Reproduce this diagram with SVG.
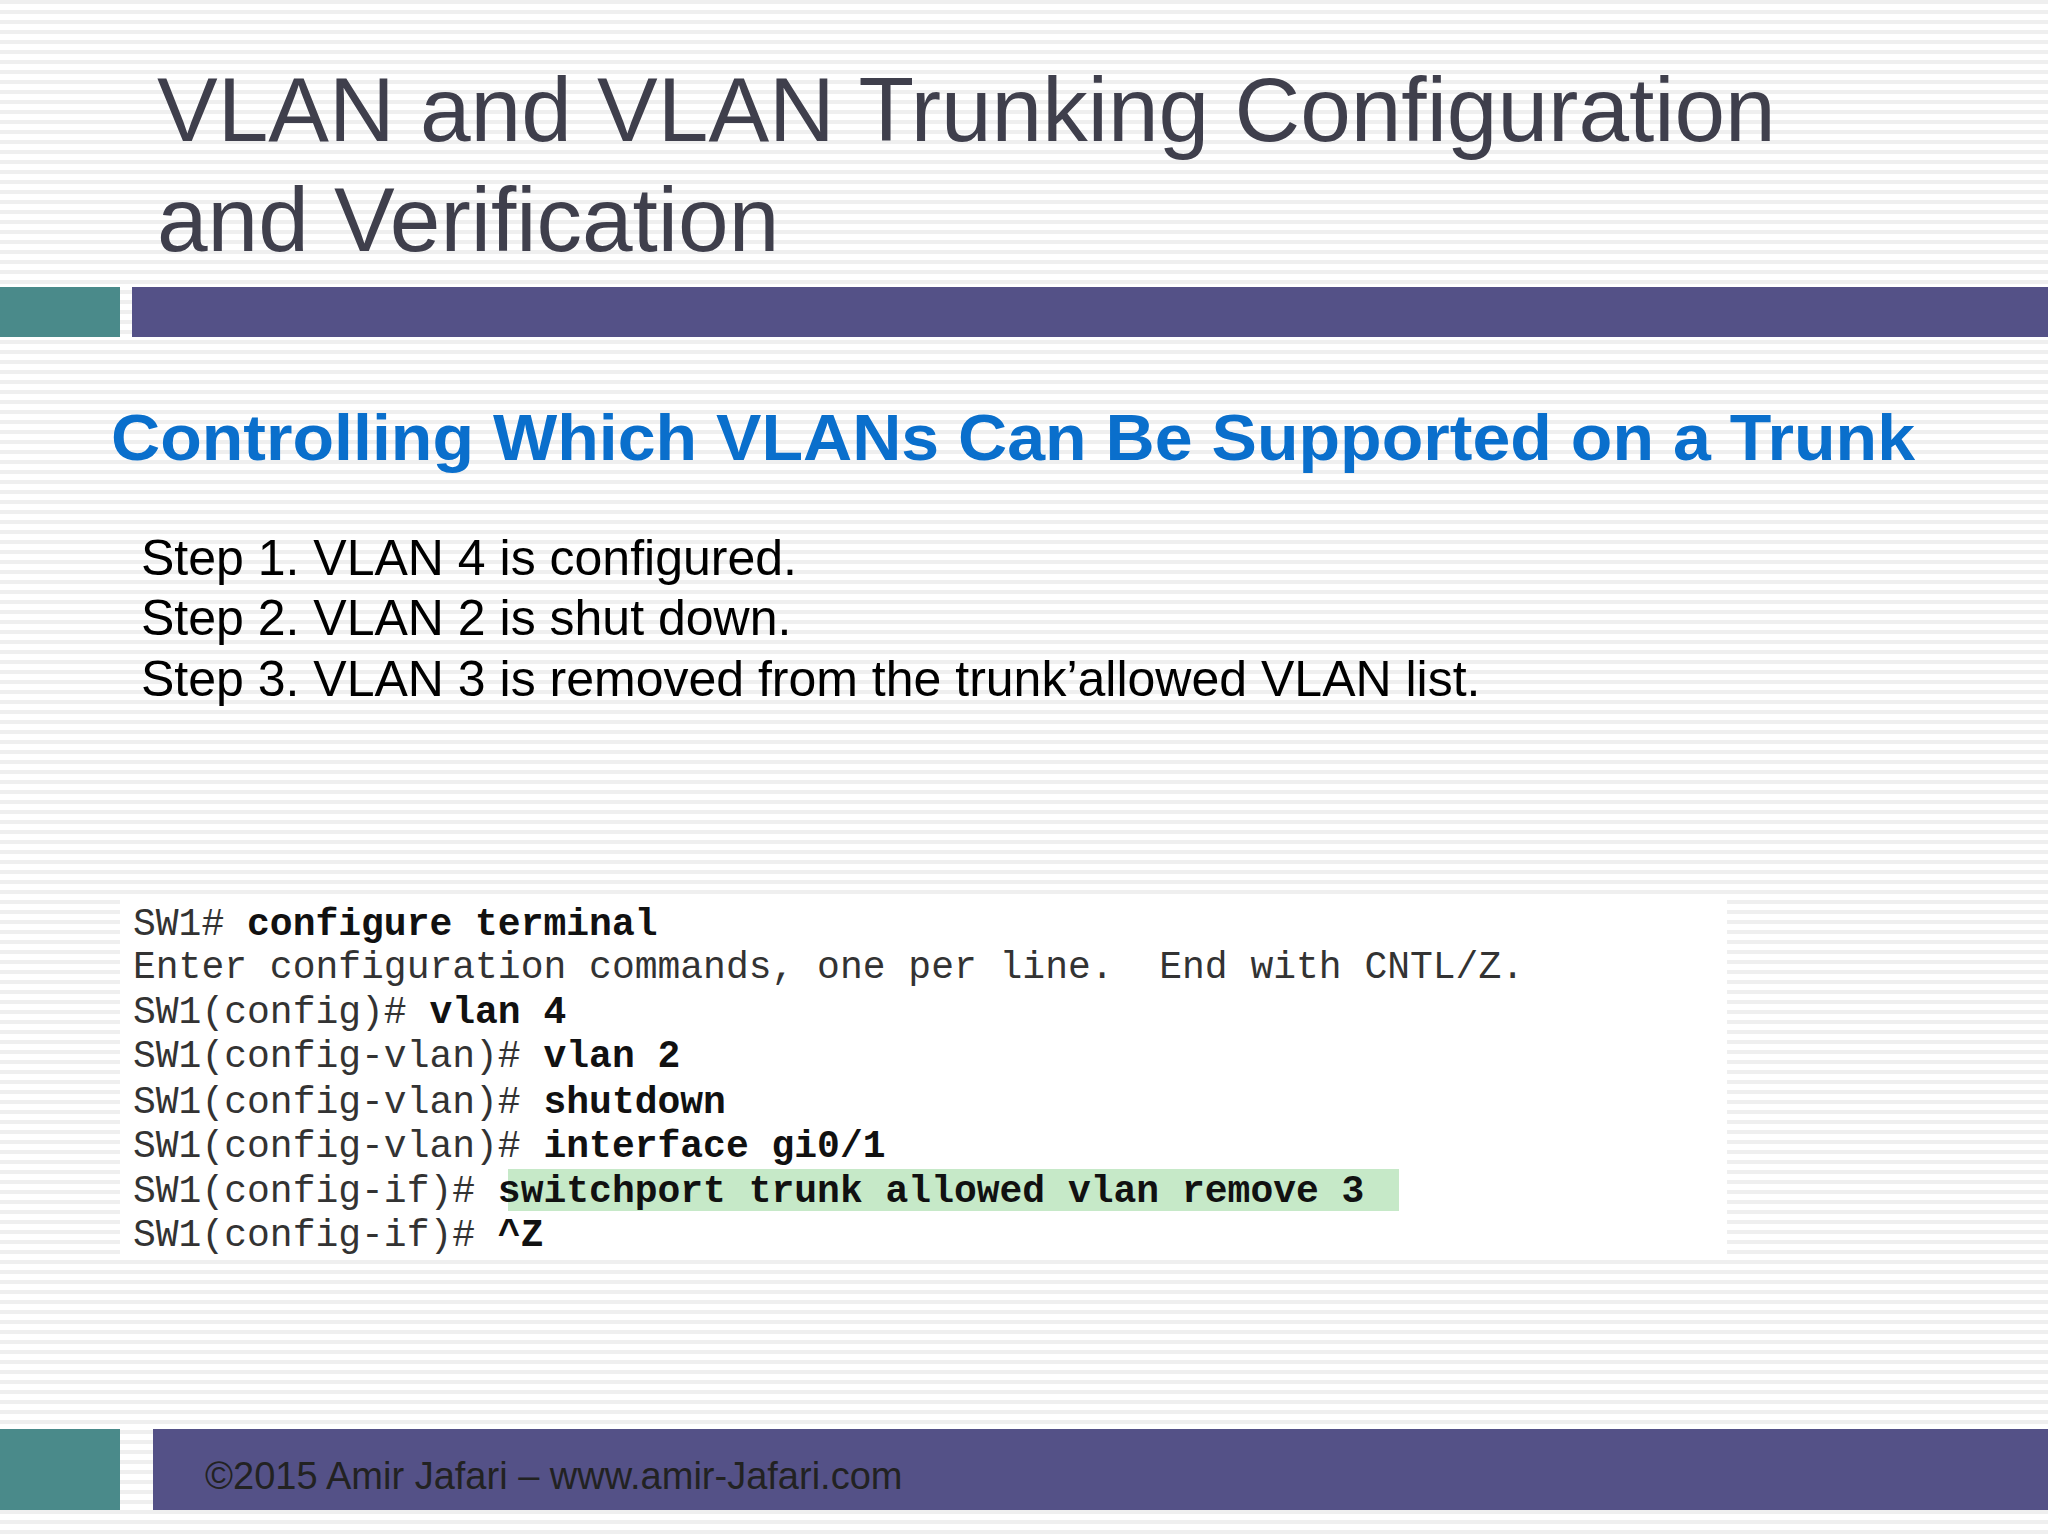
<svg xmlns="http://www.w3.org/2000/svg" width="2048" height="1536" viewBox="0 0 2048 1536">
<defs>
<pattern id="stripes" width="10" height="10" patternUnits="userSpaceOnUse"><rect width="10" height="10" fill="#ffffff"/><rect y="0" width="10" height="4" fill="#efefef"/></pattern>
<style>
.title{font-family:"Liberation Sans",Arial,sans-serif;font-size:91px;fill:#3f3f4c}
.sub{font-family:"Liberation Sans",Arial,sans-serif;font-size:64px;font-weight:bold;fill:#0a6fcc}
.step{font-family:"Liberation Sans",Arial,sans-serif;font-size:50px;fill:#000}
.code{font-family:"Liberation Mono","Courier New",monospace;font-size:38px;fill:#333}
.cmd{font-weight:bold;fill:#111}
.foot{font-family:"Liberation Sans",Arial,sans-serif;font-size:38px;fill:#222}
</style>
</defs>
<rect width="2048" height="1536" fill="url(#stripes)"/>
<g id="title">
<text class="title" x="157" y="141">VLAN and VLAN Trunking Configuration</text>
<text class="title" x="157" y="251">and Verification</text>
</g>
<g id="header-bar">
<rect x="0" y="287" width="120" height="50" fill="#4a8a8a"/>
<rect x="132" y="287" width="1916" height="50" fill="#545187"/>
</g>
<g id="subtitle"><text class="sub" x="111" y="460" textLength="1804" lengthAdjust="spacingAndGlyphs">Controlling Which VLANs Can Be Supported on a Trunk</text></g>
<g id="steps">
<text class="step" x="141" y="575">Step 1. VLAN 4 is configured.</text>
<text class="step" x="141" y="635">Step 2. VLAN 2 is shut down.</text>
<text class="step" x="141" y="696">Step 3. VLAN 3 is removed from the trunk’allowed VLAN list.</text>
</g>
<g id="code">
<rect x="120" y="899" width="1607" height="361" fill="#ffffff"/>
<rect x="508" y="1169" width="891" height="42" fill="#c6e9c8"/>
<text class="code" x="133" y="935" xml:space="preserve">SW1# <tspan class="cmd">configure terminal</tspan></text>
<text class="code" x="133" y="978" xml:space="preserve">Enter configuration commands, one per line.  End with CNTL/Z.</text>
<text class="code" x="133" y="1023" xml:space="preserve">SW1(config)# <tspan class="cmd">vlan 4</tspan></text>
<text class="code" x="133" y="1067" xml:space="preserve">SW1(config-vlan)# <tspan class="cmd">vlan 2</tspan></text>
<text class="code" x="133" y="1113" xml:space="preserve">SW1(config-vlan)# <tspan class="cmd">shutdown</tspan></text>
<text class="code" x="133" y="1157" xml:space="preserve">SW1(config-vlan)# <tspan class="cmd">interface gi0/1</tspan></text>
<text class="code" x="133" y="1202" xml:space="preserve">SW1(config-if)# <tspan class="cmd">switchport trunk allowed vlan remove 3</tspan></text>
<text class="code" x="133" y="1246" xml:space="preserve">SW1(config-if)# <tspan class="cmd">^Z</tspan></text>
</g>
<g id="footer">
<rect x="0" y="1429" width="120" height="81" fill="#4a8a8a"/>
<rect x="153" y="1429" width="1895" height="81" fill="#545187"/>
<text class="foot" x="205" y="1489">©2015 Amir Jafari – www.amir-Jafari.com</text>
</g>
</svg>
